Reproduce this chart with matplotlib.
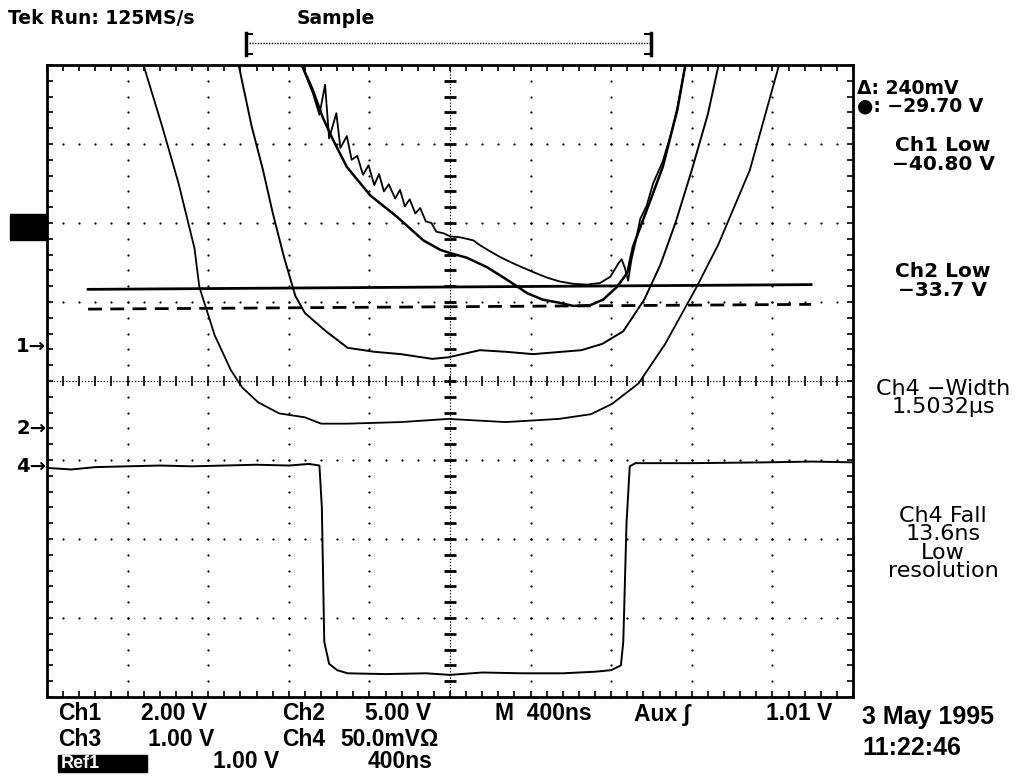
import matplotlib.pyplot as plt
import numpy as np
from matplotlib.lines import Line2D
from matplotlib.patches import Rectangle

plt.rcParams.update({
    "figure.facecolor": "white",
    "axes.facecolor": "white",
    "font.family": "DejaVu Sans",
})

# traces, in screen divisions (x: 400 ns/div, 10 div; y: 8 div)
ch4_x = [-5.0, -4.7, -4.4, -4.0, -3.6, -3.2, -2.8, -2.4, -2.0, -1.75, -1.62, -1.59, -1.56, -1.50,
         -1.40, -1.27, -0.8, -0.3, 0.0, 0.4, 0.9, 1.4, 1.8, 2.0, 2.12, 2.15, 2.19, 2.23, 2.3,
         3.0, 3.9, 4.5, 5.0]
ch4_y = [-1.10, -1.12, -1.09, -1.08, -1.07, -1.08, -1.07, -1.06, -1.07, -1.05, -1.07, -1.6, -3.3, -3.58,
         -3.66, -3.70, -3.71, -3.70, -3.72, -3.69, -3.70, -3.70, -3.68, -3.66, -3.6, -3.3, -1.8, -1.08, -1.04,
         -1.04, -1.03, -1.02, -1.03]

ch2_x = [-3.80, -3.57, -3.37, -3.17, -3.11, -2.92, -2.72, -2.58, -2.38, -2.12, -1.80, -1.60, -1.27,
         -0.61, -0.02, 0.69, 1.35, 1.75, 2.01, 2.34, 2.67, 3.06, 3.33, 3.72, 4.08]
ch2_y = [3.99, 3.22, 2.51, 1.68, 1.19, 0.58, 0.14, -0.08, -0.27, -0.41, -0.46, -0.54, -0.54,
         -0.52, -0.48, -0.52, -0.48, -0.42, -0.29, -0.03, 0.47, 1.19, 1.73, 2.67, 3.99]

ch1_x = [-2.62, -2.46, -2.32, -2.20, -2.06, -1.92, -1.80, -1.54, -1.27, -0.94, -0.61, -0.22, -0.02,
         0.37, 0.69, 1.03, 1.63, 1.89, 2.15, 2.41, 2.61, 2.80, 3.00, 3.20, 3.33]
ch1_y = [3.99, 3.22, 2.67, 2.13, 1.57, 1.08, 0.86, 0.63, 0.42, 0.37, 0.34, 0.28, 0.30,
         0.39, 0.37, 0.34, 0.39, 0.47, 0.63, 1.03, 1.47, 2.01, 2.67, 3.38, 3.99]

ref1_x = [-1.84, -1.70, -1.58, -1.45, -1.28, -0.99, -0.66, -0.33, -0.12, 0.0, 0.21, 0.46, 0.71,
          0.96, 1.15, 1.36, 1.53, 1.74, 1.90, 2.07, 2.20, 2.27, 2.44, 2.64, 2.82, 2.92]
ref1_y = [4.0, 3.68, 3.34, 3.05, 2.71, 2.35, 2.08, 1.78, 1.66, 1.62, 1.56, 1.44, 1.28,
          1.11, 1.03, 0.99, 0.95, 0.96, 1.03, 1.19, 1.37, 1.70, 2.16, 2.71, 3.43, 4.0]

ch3_x = [-1.84, -1.70, -1.62, -1.55, -1.50, -1.41, -1.36, -1.28, -1.22, -1.15, -1.08, -1.01, -0.94,
         -0.88, -0.82, -0.76, -0.68, -0.62, -0.56, -0.50, -0.43, -0.37, -0.30, -0.23, -0.17, -0.08,
         0.0, 0.12, 0.29, 0.37, 0.50, 0.62, 0.74, 0.87, 1.03, 1.20, 1.36, 1.53, 1.70, 1.86, 1.99,
         2.09, 2.13, 2.17, 2.21, 2.25, 2.30, 2.36, 2.44, 2.52, 2.64, 2.74, 2.82, 2.92]
ch3_y = [4.0, 3.64, 3.37, 3.75, 3.07, 3.39, 2.95, 3.10, 2.80, 2.85, 2.61, 2.73, 2.48,
         2.62, 2.40, 2.49, 2.31, 2.42, 2.21, 2.30, 2.12, 2.19, 2.02, 2.00, 1.89, 1.87,
         1.83, 1.82, 1.78, 1.72, 1.64, 1.57, 1.51, 1.45, 1.38, 1.31, 1.26, 1.23, 1.22, 1.24, 1.32,
         1.49, 1.54, 1.43, 1.27, 1.53, 1.75, 2.05, 2.22, 2.50, 2.78, 3.12, 3.45, 4.0]

cursor_x = [-4.49, 4.48]
cursor_solid_y = [1.16, 1.22]
cursor_dash_y = [0.91, 0.97]

W, H = 1029, 778


def fx(px):
    return px / W


def fy(py):
    return 1 - py / H


fig = plt.figure(figsize=(W / 100, H / 100), dpi=100)
ax = fig.add_axes([fx(47), fy(697), 806 / W, 632 / H])
ax.set_xlim(-5, 5)
ax.set_ylim(-4, 4)
for s in ax.spines.values():
    s.set_linewidth(2.0)
ax.set_xticks(np.arange(-5, 5.01, 0.2))
ax.set_yticks(np.arange(-4, 4.01, 0.2))
ax.tick_params(direction="in", length=4, width=1.2, top=True, right=True,
               labelbottom=False, labelleft=False)

# graticule dots
minor = np.arange(-5, 5.01, 0.2)
for gx in range(-4, 5):
    if gx == 0:
        continue
    ax.plot(np.full(41, gx), np.arange(-4, 4.01, 0.2), ls="none", marker="o", ms=1.6,
            mew=0, color="black")
for gy in range(-3, 4):
    if gy == 0:
        continue
    ax.plot(minor, np.full(len(minor), gy), ls="none", marker="o", ms=1.6, mew=0, color="black")

# center cross with ticks
ax.plot([0, 0], [-4, 4], color="black", lw=0.9, ls=(0, (1, 1.5)))
ax.plot([-5, 5], [0, 0], color="black", lw=0.9, ls=(0, (1, 1.5)))
for ty in np.arange(-3.8, 3.81, 0.2):
    ax.plot([-0.07, 0.07], [ty, ty], color="black", lw=2.0, solid_capstyle="butt")
for tx in np.arange(-4.8, 4.81, 0.2):
    ax.plot([tx, tx], [-0.06, 0.06], color="black", lw=1.2, solid_capstyle="butt")

# traces
ax.plot(ch4_x, ch4_y, color="black", lw=1.4)
ax.plot(ch2_x, ch2_y, color="black", lw=1.3)
ax.plot(ch1_x, ch1_y, color="black", lw=1.4)
ax.plot(ref1_x, ref1_y, color="black", lw=1.8)
ax.plot(ch3_x, ch3_y, color="black", lw=1.3)

# cursors
ax.plot(cursor_x, cursor_solid_y, color="black", lw=2.0)
ax.plot(cursor_x, cursor_dash_y, color="black", lw=2.0, ls=(0, (5, 3)))

# header
bold = dict(fontweight="bold", color="black")
fig.text(fx(8), fy(18), "Tek Run: 125MS/s", fontsize=13.5, va="center", ha="left", **bold)
fig.text(fx(297), fy(18), "Sample", fontsize=13.5, va="center", ha="left", **bold)
fig.add_artist(Line2D([fx(249), fx(650)], [fy(43), fy(43)], color="black", lw=1.0, ls=(0, (1, 1))))
for bx, d in ((246, 6), (651, -6)):
    fig.add_artist(Line2D([fx(bx), fx(bx)], [fy(33), fy(55)], color="black", lw=2.5))
    fig.add_artist(Line2D([fx(bx), fx(bx + d)], [fy(34), fy(34)], color="black", lw=1.5))
    fig.add_artist(Line2D([fx(bx), fx(bx + d)], [fy(54), fy(54)], color="black", lw=1.5))

# left markers
fig.add_artist(Rectangle((fx(10), fy(240)), 36 / W, 26 / H, color="black"))
for label, py in (("1→", 347), ("2→", 428), ("4→", 466)):
    fig.text(fx(46), fy(py), label, fontsize=14, ha="right", va="center", **bold)

# right readouts
fig.text(fx(857), fy(97), "Δ: 240mV\n●: −29.70 V", fontsize=13.5, ha="left", va="center",
         linespacing=0.9, **bold)
right_blocks = [("Ch1 Low\n−40.80 V", 155, True),
                ("Ch2 Low\n−33.7 V", 281, True),
                ("Ch4 −Width\n1.5032µs", 398, False),
                ("Ch4 Fall\n13.6ns\nLow\nresolution", 543.5, False)]
for txt, py, b in right_blocks:
    fig.text(fx(943), fy(py), txt, fontsize=14.5 if b else 16, ha="center", va="center",
             ma="center", linespacing=1.0 if b else 0.9,
             fontweight="bold" if b else "medium", color="black")

# bottom readouts
narrow = ["DejaVu Sans Condensed", "Liberation Sans Narrow", "Liberation Sans"]
bottom_text = [("Ch1", 58, 714), ("2.00 V", 141, 714), ("Ch2", 282, 714), ("5.00 V", 365, 714),
               ("M  400ns", 495, 714), ("Aux ∫", 634, 714), ("1.01 V", 766, 714),
               ("Ch3", 58, 739), ("1.00 V", 148, 739), ("Ch4", 282, 739), ("50.0mVΩ", 340, 739),
               ("1.00 V", 213, 762), ("400ns", 368, 762)]
for txt, px, py in bottom_text:
    fig.text(fx(px), fy(py), txt, fontsize=16.5, ha="left", va="center", family=narrow,
             fontweight="bold", color="black")
fig.text(fx(862), fy(717), "3 May 1995", fontsize=18, ha="left", va="center", family=narrow,
         fontweight="bold", color="black")
fig.text(fx(862), fy(748), "11:22:46", fontsize=18, ha="left", va="center", family=narrow,
         fontweight="bold", color="black")
fig.add_artist(Rectangle((fx(58), fy(772)), 89 / W, 17 / H, color="black"))
fig.text(fx(61), fy(763), "Ref1", fontsize=13, ha="left", va="center", family=narrow,
         color="white", fontweight="bold")

fig.savefig("out.png", dpi=100, facecolor="white")
plt.close(fig)
